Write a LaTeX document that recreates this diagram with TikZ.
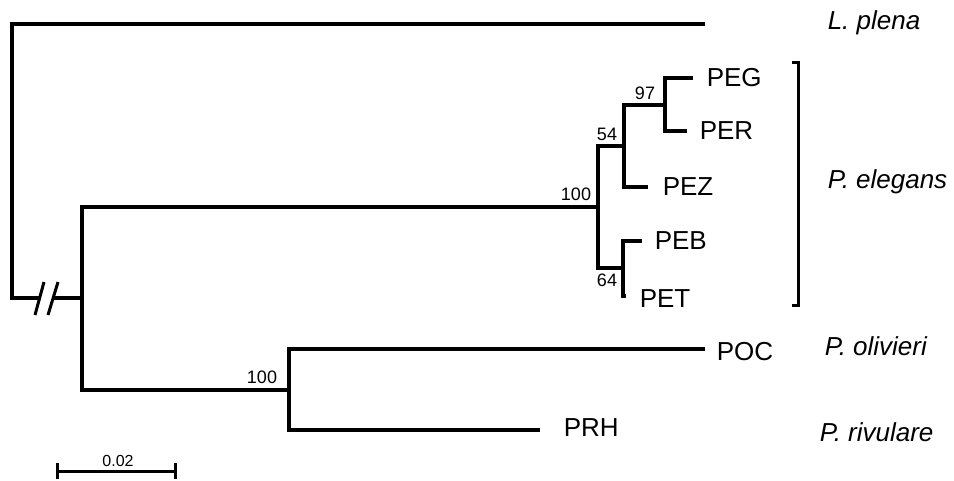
\documentclass[tikz,border=0pt]{standalone}
\usepackage{fontspec}
\setmainfont{Liberation Sans}
\usetikzlibrary{positioning}
\begin{document}
\begin{tikzpicture}[x=1pt, y=-1pt, line width=3.5pt,
    branch/.style={line cap=butt, line join=miter},
    every node/.style={inner sep=0pt},
    tiplab/.style={font=\fontsize{26}{26}\selectfont, anchor=west},
    species/.style={font=\fontsize{26}{26}\selectfont\itshape, anchor=west},
    boot/.style={font=\fontsize{18}{18}\selectfont}]
    \useasboundingbox (0,0) rectangle (954,481);

    % internal nodes
    \coordinate (root) at (12,24);
    \coordinate (n1) at (82,298);
    \coordinate (n2) at (598,207);
    \coordinate (n3) at (624,146);
    \coordinate (n4) at (665,105);
    \coordinate (n5) at (623,268);
    \coordinate (n6) at (289,390);

    % tips
    \coordinate (lpl) at (705,24);
    \coordinate (peg) at (693,78);
    \coordinate (per) at (687,131);
    \coordinate (pez) at (648,187);
    \coordinate (peb) at (642,241);
    \coordinate (pet) at (626,296);
    \coordinate (poc) at (705,349);
    \coordinate (prh) at (540,430);

    % outgroup and broken root
    \draw[branch] (lpl) -- (root) -- (12,298) -- (40,298);
    \draw[branch] (53,298) -- (n1);
    \draw[line width=3pt] (35,315) -- (44,282);
    \draw[line width=3pt] (48,315) -- (58,282);

    % ingroup
    \draw[branch] (n1) |- (n2);
    \draw[branch] (n1) |- (n6);
    \draw[branch] (n2) |- (n3);
    \draw[branch] (n2) |- (n5);
    \draw[branch] (n3) |- (n4);
    \draw[branch] (n3) |- (pez);
    \draw[branch] (n4) |- (peg);
    \draw[branch] (n4) |- (per);
    \draw[branch] (n5) |- (peb);
    \draw[branch] (n5) |- (pet);
    \draw[branch] (n6) |- (poc);
    \draw[branch] (n6) |- (prh);

    % tip labels
    \node[tiplab, right=12pt of peg] (pegl) {PEG};
    \node[tiplab, right=11pt of per] (perl) {PER};
    \node[tiplab, right=13pt of pez] (pezl) {PEZ};
    \node[tiplab, right=11pt of peb] (pebl) {PEB};
    \node[tiplab, right=12pt of pet, yshift=-3pt] (petl) {PET};
    \node[tiplab, right=10pt of poc, yshift=-3pt] (pocl) {POC};
    \node[tiplab, right=22pt of prh, yshift=2pt] (prhl) {PRH};

    % bootstrap values
    \node[boot] (b97) at (645,93) {97};
    \node[boot] (b54) at (607,134) {54};
    \node[boot] (b100a) at (576,194) {100};
    \node[boot] (b64) at (607,280) {64};
    \node[boot] (b100b) at (262,377) {100};

    % species
    \node[species] (sp1) at (826,23) {L. plena};
    \node[species] (sp2) at (826,182) {P. elegans};
    \node[species] (sp3) at (823,346) {P. olivieri};
    \node[species] (sp4) at (818,432) {P. rivulare};
    \draw[branch, line width=3pt] (792,63) -- (798,63) -- (798,306) -- (792,306);

    % scale bar
    \coordinate (s1) at (57,471);
    \coordinate (s2) at (175,471);
    \draw[line width=3pt] (s1) -- (s2);
    \draw[line width=3pt] (57,463) -- (57,479);
    \draw[line width=3pt] (175,463) -- (175,479);
    \node[font=\fontsize{16}{16}\selectfont] (sc) at (118,461) {0.02};
  \end{tikzpicture}
\end{document}
